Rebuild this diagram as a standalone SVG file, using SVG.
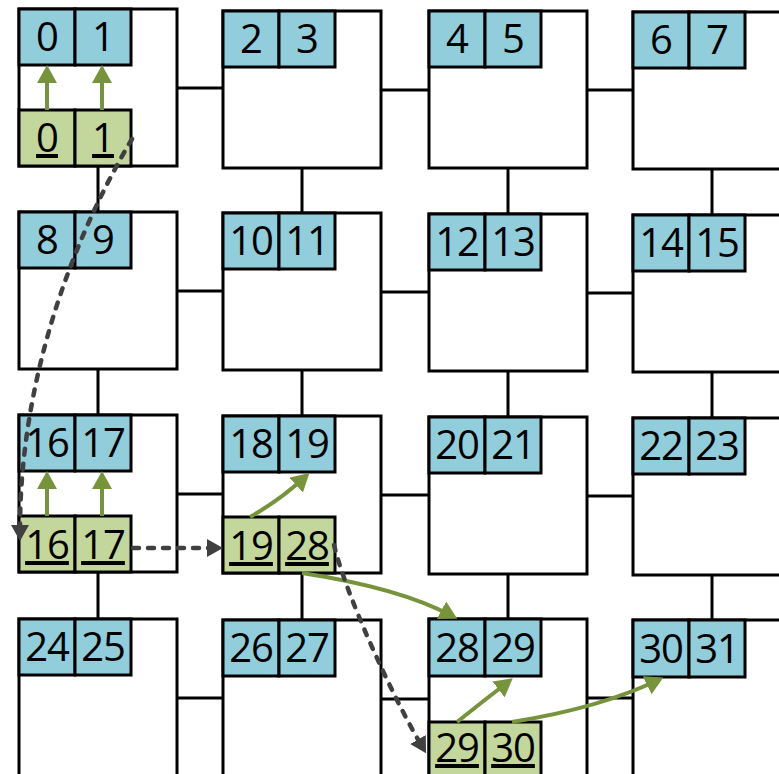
<svg xmlns="http://www.w3.org/2000/svg" width="779" height="774" viewBox="0 0 779 774">
<style>
.box{fill:#fff;stroke:#000;stroke-width:3}
.b{fill:#92CDDC;stroke:#000;stroke-width:3}
.g{fill:#C3D69B;stroke:#000;stroke-width:3}
.t{font-family:"Open Sans","Liberation Sans",sans-serif;font-size:40px;fill:#000;text-anchor:middle;letter-spacing:-1px}
.u{text-decoration:underline}
.ln{stroke:#000;stroke-width:3;fill:none}
.ga{stroke:#77933C;stroke-width:4;fill:none;marker-end:url(#gh)}
.da{stroke:#404040;stroke-width:4.5;fill:none;stroke-dasharray:6 9;stroke-linecap:round;marker-end:url(#dh)}
</style>
<defs>
<marker id="gh" viewBox="0 0 18 20" refX="12" refY="10" markerWidth="18" markerHeight="20" markerUnits="userSpaceOnUse" orient="auto">
<path d="M0,0 L18,10 L0,20 z" fill="#77933C"/>
</marker>
<marker id="dh" viewBox="0 0 16 18" refX="4" refY="9" markerWidth="16" markerHeight="18" markerUnits="userSpaceOnUse" orient="auto">
<path d="M0,0 L16,9 L0,18 z" fill="#404040"/>
</marker>
</defs>
<g id="links" class="ln">
<path d="M177,88H223M381,90H429M587,90H633"/>
<path d="M177,291H223M381,292H429M587,293H633"/>
<path d="M177,494H223M381,495H429M587,496H633"/>
<path d="M177,698H223M381,699H429M587,698H633"/>
<path d="M98,166V212M98,369V415M98,572V619"/>
<path d="M302,168V213M302,370V416M302,573V620"/>
<path d="M508,168V214M508,371V417M508,574V619"/>
<path d="M712,169V215M712,372V418M712,575V620"/>
</g>
<g id="n0"><rect class="box" x="19" y="9" width="158" height="157"/>
<rect class="b" x="19" y="9" width="56" height="56"/><rect class="b" x="75" y="9" width="56" height="56"/>
<text class="t" x="47" y="51">0</text><text class="t" x="103" y="51">1</text>
<rect class="g" x="19" y="110" width="56" height="56"/><rect class="g" x="75" y="110" width="56" height="56"/>
<text class="t u" x="47" y="152">0</text><text class="t u" x="103" y="152">1</text></g>
<g id="n1"><rect class="box" x="223" y="11" width="158" height="157"/>
<rect class="b" x="223" y="11" width="56" height="56"/><rect class="b" x="279" y="11" width="56" height="56"/>
<text class="t" x="251" y="53">2</text><text class="t" x="307" y="53">3</text></g>
<g id="n2"><rect class="box" x="429" y="11" width="158" height="157"/>
<rect class="b" x="429" y="11" width="56" height="56"/><rect class="b" x="485" y="11" width="56" height="56"/>
<text class="t" x="457" y="53">4</text><text class="t" x="513" y="53">5</text></g>
<g id="n3"><rect class="box" x="633" y="12" width="158" height="157"/>
<rect class="b" x="633" y="12" width="56" height="56"/><rect class="b" x="689" y="12" width="56" height="56"/>
<text class="t" x="661" y="54">6</text><text class="t" x="717" y="54">7</text></g>
<g id="n4"><rect class="box" x="19" y="212" width="158" height="157"/>
<rect class="b" x="19" y="212" width="56" height="56"/><rect class="b" x="75" y="212" width="56" height="56"/>
<text class="t" x="47" y="254">8</text><text class="t" x="103" y="254">9</text></g>
<g id="n5"><rect class="box" x="223" y="213" width="158" height="157"/>
<rect class="b" x="223" y="213" width="56" height="56"/><rect class="b" x="279" y="213" width="56" height="56"/>
<text class="t" x="251" y="255">10</text><text class="t" x="307" y="255">11</text></g>
<g id="n6"><rect class="box" x="429" y="214" width="158" height="157"/>
<rect class="b" x="429" y="214" width="56" height="56"/><rect class="b" x="485" y="214" width="56" height="56"/>
<text class="t" x="457" y="256">12</text><text class="t" x="513" y="256">13</text></g>
<g id="n7"><rect class="box" x="633" y="215" width="158" height="157"/>
<rect class="b" x="633" y="215" width="56" height="56"/><rect class="b" x="689" y="215" width="56" height="56"/>
<text class="t" x="661" y="257">14</text><text class="t" x="717" y="257">15</text></g>
<g id="n8"><rect class="box" x="19" y="415" width="158" height="157"/>
<rect class="b" x="19" y="415" width="56" height="56"/><rect class="b" x="75" y="415" width="56" height="56"/>
<text class="t" x="47" y="457">16</text><text class="t" x="103" y="457">17</text>
<rect class="g" x="19" y="516" width="56" height="56"/><rect class="g" x="75" y="516" width="56" height="56"/>
<text class="t u" x="47" y="559">16</text><text class="t u" x="103" y="559">17</text></g>
<g id="n9"><rect class="box" x="223" y="416" width="158" height="157"/>
<rect class="b" x="223" y="416" width="56" height="56"/><rect class="b" x="279" y="416" width="56" height="56"/>
<text class="t" x="251" y="458">18</text><text class="t" x="307" y="458">19</text>
<rect class="g" x="223" y="517" width="56" height="56"/><rect class="g" x="279" y="517" width="56" height="56"/>
<text class="t u" x="251" y="560">19</text><text class="t u" x="307" y="560">28</text></g>
<g id="n10"><rect class="box" x="429" y="417" width="158" height="157"/>
<rect class="b" x="429" y="417" width="56" height="56"/><rect class="b" x="485" y="417" width="56" height="56"/>
<text class="t" x="457" y="459">20</text><text class="t" x="513" y="459">21</text></g>
<g id="n11"><rect class="box" x="633" y="418" width="158" height="157"/>
<rect class="b" x="633" y="418" width="56" height="56"/><rect class="b" x="689" y="418" width="56" height="56"/>
<text class="t" x="661" y="460">22</text><text class="t" x="717" y="460">23</text></g>
<g id="n12"><rect class="box" x="19" y="619" width="158" height="157"/>
<rect class="b" x="19" y="619" width="56" height="56"/><rect class="b" x="75" y="619" width="56" height="56"/>
<text class="t" x="47" y="661">24</text><text class="t" x="103" y="661">25</text></g>
<g id="n13"><rect class="box" x="223" y="620" width="158" height="157"/>
<rect class="b" x="223" y="620" width="56" height="56"/><rect class="b" x="279" y="620" width="56" height="56"/>
<text class="t" x="251" y="662">26</text><text class="t" x="307" y="662">27</text></g>
<g id="n14"><rect class="box" x="429" y="619" width="158" height="157"/>
<rect class="b" x="429" y="619" width="56" height="57"/><rect class="b" x="485" y="619" width="56" height="57"/>
<text class="t" x="457" y="662">28</text><text class="t" x="513" y="662">29</text>
<rect class="g" x="429" y="722" width="56" height="56"/><rect class="g" x="485" y="722" width="56" height="56"/>
<text class="t u" x="457" y="762">29</text><text class="t u" x="513" y="762">30</text></g>
<g id="n15"><rect class="box" x="633" y="620" width="158" height="157"/>
<rect class="b" x="633" y="620" width="56" height="57"/><rect class="b" x="689" y="620" width="56" height="57"/>
<text class="t" x="661" y="663">30</text><text class="t" x="717" y="663">31</text></g>
<g id="arrows">
<path class="ga" d="M47,110V71"/>
<path class="ga" d="M102,110V71"/>
<path class="ga" d="M47,516V477"/>
<path class="ga" d="M102,516V477"/>
<path class="ga" d="M250,517Q280,500 305,477"/>
<path class="ga" d="M302,573Q400,588 452,616"/>
<path class="ga" d="M457,722Q482,702 508,682"/>
<path class="ga" d="M512,722Q600,708 658,680"/>
<path class="da" d="M132,139C60,260 20,400 20,529"/>
<path class="da" d="M133,548H211"/>
<path class="da" d="M334,545C346,595 392,695 420,743"/>
</g>
</svg>
